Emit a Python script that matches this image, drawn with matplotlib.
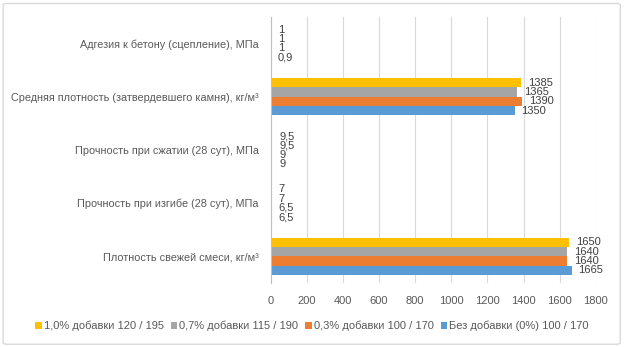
import numpy as np
import matplotlib.pyplot as plt
from matplotlib.patches import FancyBboxPatch

plt.rcParams['font.family'] = ['Liberation Sans', 'DejaVu Sans']

# Data (bottom category first)
categories = ['Плотность свежей смеси, кг/м³',
              'Прочность при изгибе (28 сут), МПа',
              'Прочность при сжатии (28 сут), МПа',
              'Средняя плотность (затвердевшего камня), кг/м³',
              'Адгезия к бетону (сцепление), МПа']
series_names = ['Без добавки (0%) 100 / 170',
                '0,3% добавки 100 / 170',
                '0,7% добавки 115 / 190',
                '1,0% добавки 120 / 195']
no_add = [1665, 6.5, 9, 1350, 0.9]
add_03 = [1640, 6.5, 9, 1390, 1]
add_07 = [1640, 7, 9.5, 1365, 1]
add_10 = [1650, 7, 9.5, 1385, 1]
series = [no_add, add_03, add_07, add_10]
colors = ['#5B9BD5', '#ED7D31', '#A5A5A5', '#FFC000']
xticks = [0, 200, 400, 600, 800, 1000, 1200, 1400, 1600, 1800]

fig = plt.figure(figsize=(6.24, 3.47), dpi=100)
ax = fig.add_axes([0.4335, 0.1844, 0.5215, 0.7667])

# Outer chart border
fig.patches.append(FancyBboxPatch((0.005, 0.008), 0.989, 0.982,
                                  boxstyle='round,pad=0,rounding_size=0.005',
                                  transform=fig.transFigure, fill=False,
                                  edgecolor='#D9D9D9', linewidth=1))

h = 0.175
y = np.arange(len(categories))
for i, (vals, c, name) in enumerate(zip(series, colors, series_names)):
    pos = y + (i - 1.5) * h
    ax.barh(pos, vals, height=h, color=c, label=name, zorder=3)
    for p, v in zip(pos, vals):
        txt = ('%g' % v).replace('.', ',')
        ax.annotate(txt, (v, p), xytext=(5, 0), textcoords='offset points',
                    va='center', ha='left', fontsize=8, color='#404040')

ax.set_xlim(0, 1800)
ax.set_ylim(-0.5, len(categories) - 0.5)
ax.set_xticks(xticks)
ax.set_yticks(y)
ax.set_yticklabels(categories)
ax.tick_params(axis='both', length=0, labelsize=8, colors='#595959')
ax.tick_params(axis='y', pad=8.5, labelsize=7.8)
ax.tick_params(axis='x', pad=9)
ax.grid(axis='x', color='#D9D9D9', linewidth=0.8, zorder=0)
for s in ['top', 'right', 'bottom']:
    ax.spines[s].set_visible(False)
ax.spines['left'].set_color('#BFBFBF')
ax.spines['left'].set_zorder(4)

handles, labels = ax.get_legend_handles_labels()
fig.legend(handles[::-1], labels[::-1], loc='center', bbox_to_anchor=(0.5, 0.06),
           ncol=4, frameon=False, fontsize=8, labelcolor='#595959',
           handlelength=0.6, handleheight=0.6, handletextpad=0.2,
           columnspacing=0.6)

fig.savefig('out.png', dpi=100)
